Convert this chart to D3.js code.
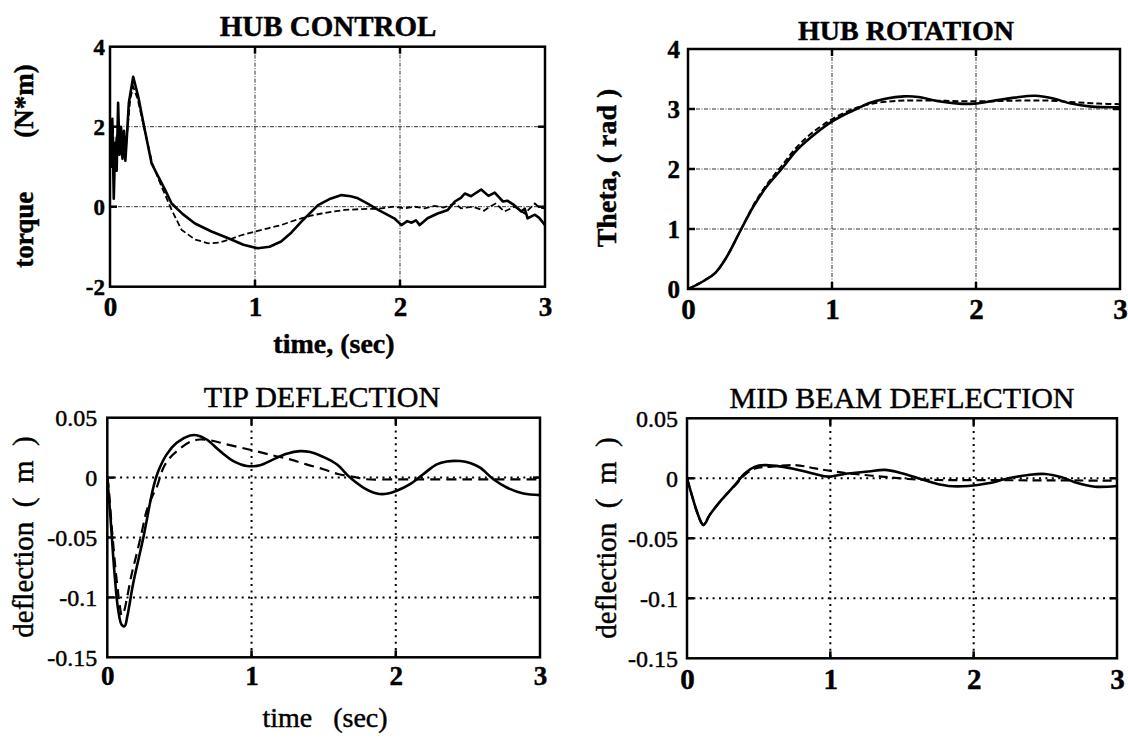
<!DOCTYPE html>
<html><head><meta charset="utf-8">
<script src="https://cdn.jsdelivr.net/npm/d3@7"></script>
<style>
body{margin:0;background:#fff;}
svg{display:block;background:#fff;}
text{font-family:"Liberation Serif","Times New Roman",serif;fill:#000;stroke:#000;stroke-width:0.45px;}
</style></head><body>
<svg id="chart" width="1128" height="740"></svg>
<script>
// ---------------- DATA ----------------
const timeTicks = [0, 1, 2, 3];
const timeTickLabels = ["0", "1", "2", "3"];

const torqueTicks = [-2, 0, 2, 4];
const torqueTickLabels = ["-2", "0", "2", "4"];
const thetaTicks = [0, 1, 2, 3, 4];
const thetaTickLabels = ["0", "1", "2", "3", "4"];
const deflTicks = [-0.15, -0.1, -0.05, 0, 0.05];
const deflTickLabels = ["-0.15", "-0.1", "-0.05", "0", "0.05"];

// HUB CONTROL torque (N*m) : [time, value]
const hubControlSolid = [[0,2.0],[0.008,1.0],[0.016,2.2],[0.026,0.2],[0.036,1.6],[0.046,0.9],[0.056,2.6],[0.066,1.3],[0.076,2.0],[0.086,1.2],[0.096,1.9],[0.106,1.15],[0.114,1.6],[0.13,2.6],[0.16,3.25],[0.195,2.75],[0.24,1.92],[0.287,1.08],[0.333,0.75],[0.38,0.42],[0.425,0.08],[0.5,-0.18],[0.586,-0.42],[0.7,-0.62],[0.816,-0.79],[0.92,-0.95],[1.02,-1.04],[1.1,-1.0],[1.18,-0.87],[1.25,-0.65],[1.32,-0.375],[1.435,0.04],[1.52,0.2],[1.597,0.29],[1.66,0.26],[1.71,0.21],[1.78,0.07],[1.85,-0.08],[1.96,-0.29],[2.01,-0.46],[2.05,-0.36],[2.08,-0.4],[2.11,-0.34],[2.136,-0.46],[2.19,-0.29],[2.26,-0.17],[2.33,-0.08],[2.378,0.13],[2.42,0.22],[2.447,0.33],[2.49,0.26],[2.53,0.36],[2.56,0.43],[2.61,0.27],[2.653,0.35],[2.71,0.13],[2.74,0.15],[2.78,0.06],[2.837,-0.12],[2.86,-0.05],[2.88,-0.29],[2.93,-0.2],[2.96,-0.28],[3.0,-0.46]];
const hubControlDashed = [[0,1.9],[0.01,1.4],[0.02,2.0],[0.03,1.0],[0.045,1.8],[0.06,1.4],[0.075,1.9],[0.09,1.3],[0.105,1.7],[0.12,1.9],[0.14,2.7],[0.16,3.0],[0.19,2.7],[0.24,1.9],[0.29,1.1],[0.356,0.5],[0.425,-0.08],[0.494,-0.58],[0.586,-0.82],[0.678,-0.915],[0.75,-0.9],[0.816,-0.83],[0.9,-0.72],[1.0,-0.62],[1.09,-0.54],[1.18,-0.46],[1.25,-0.37],[1.32,-0.29],[1.39,-0.22],[1.46,-0.17],[1.54,-0.12],[1.62,-0.08],[1.735,-0.06],[1.85,-0.05],[1.96,0],[2.03,-0.04],[2.1,0],[2.17,-0.04],[2.24,0.02],[2.3,-0.02],[2.378,0.08],[2.42,-0.04],[2.5,0],[2.58,-0.1],[2.62,0.0],[2.66,0.08],[2.72,-0.12],[2.79,0.0],[2.86,-0.17],[2.93,0.08],[2.96,-0.02],[3.0,-0.04]];

// HUB ROTATION theta (rad)
const hubRotationSolid = [[0,0],[0.06,0.07],[0.12,0.15],[0.19,0.27],[0.26,0.5],[0.37,1.0],[0.46,1.4],[0.55,1.72],[0.65,2.0],[0.75,2.3],[0.85,2.52],[0.98,2.76],[1.08,2.9],[1.17,3.0],[1.26,3.1],[1.37,3.17],[1.5,3.21],[1.6,3.2],[1.74,3.13],[1.88,3.09],[1.99,3.09],[2.13,3.14],[2.27,3.19],[2.41,3.22],[2.53,3.18],[2.66,3.09],[2.8,3.04],[3.0,3.03]];
const hubRotationDashed = [[0,0],[0.06,0.07],[0.12,0.15],[0.19,0.27],[0.26,0.5],[0.37,1.0],[0.46,1.42],[0.55,1.75],[0.65,2.05],[0.75,2.35],[0.85,2.58],[0.98,2.8],[1.08,2.93],[1.17,3.02],[1.26,3.08],[1.37,3.12],[1.5,3.14],[1.7,3.14],[1.9,3.13],[2.1,3.13],[2.3,3.14],[2.5,3.14],[2.7,3.11],[2.85,3.09],[3.0,3.08]];

// TIP DEFLECTION (m)
const tipSolid = [[0,0],[0.02,-0.03],[0.05,-0.08],[0.075,-0.11],[0.1,-0.123],[0.12,-0.124],[0.14,-0.115],[0.18,-0.088],[0.25,-0.05],[0.319,-0.0083],[0.354,0.0055],[0.412,0.0194],[0.481,0.029],[0.574,0.0351],[0.62,0.0354],[0.689,0.0318],[0.782,0.0221],[0.874,0.0138],[0.967,0.0097],[1.059,0.0103],[1.151,0.0152],[1.244,0.0199],[1.336,0.0221],[1.406,0.0213],[1.498,0.0172],[1.591,0.0111],[1.683,0.0],[1.775,-0.0083],[1.868,-0.0133],[1.937,-0.0135],[2.007,-0.011],[2.099,-0.0055],[2.19,0.0028],[2.284,0.0111],[2.354,0.0135],[2.446,0.0138],[2.52,0.012],[2.585,0.0083],[2.677,-0.0014],[2.77,-0.0083],[2.885,-0.0133],[3.0,-0.0146]];
const tipDashed = [[0,0],[0.007,-0.0055],[0.03,-0.04],[0.06,-0.08],[0.088,-0.108],[0.1,-0.115],[0.115,-0.112],[0.134,-0.102],[0.17,-0.08],[0.204,-0.0636],[0.24,-0.045],[0.273,-0.0276],[0.319,-0.0138],[0.342,-0.0083],[0.389,0.0083],[0.43,0.016],[0.481,0.022],[0.574,0.0299],[0.643,0.0318],[0.72,0.031],[0.82,0.028],[1.01,0.0227],[1.15,0.0185],[1.267,0.0152],[1.38,0.011],[1.498,0.007],[1.6,0.003],[1.706,0.0006],[1.8,-0.0014],[2.0,-0.0014],[2.5,-0.0014],[3.0,-0.0014]];

// MID BEAM DEFLECTION (m)
const midSolid = [[0,0],[0.03,-0.0125],[0.065,-0.0264],[0.1,-0.037],[0.114,-0.039],[0.13,-0.037],[0.16,-0.0303],[0.242,-0.0178],[0.335,-0.0055],[0.405,0.0042],[0.475,0.0097],[0.544,0.011],[0.66,0.0097],[0.777,0.007],[0.893,0.0036],[0.986,0.0014],[1.1,0.0036],[1.265,0.0056],[1.38,0.007],[1.498,0.0042],[1.614,0.0],[1.73,-0.0042],[1.823,-0.0064],[1.963,-0.0064],[2.1,-0.0042],[2.243,0.0],[2.382,0.0028],[2.498,0.0036],[2.614,0.0008],[2.73,-0.0042],[2.847,-0.007],[3.0,-0.0064]];
const midDashed = [[0,0],[0.03,-0.0125],[0.065,-0.0264],[0.1,-0.037],[0.114,-0.039],[0.13,-0.036],[0.16,-0.0303],[0.242,-0.0178],[0.335,-0.006],[0.405,0.003],[0.475,0.0083],[0.59,0.0097],[0.754,0.011],[0.893,0.0083],[1.03,0.0056],[1.17,0.0036],[1.358,0.0014],[1.544,-0.0006],[1.75,-0.0014],[2.2,-0.0016],[2.7,-0.0018],[3.0,-0.002]];

// ---------------- LAYOUT ----------------
const svg = d3.select("#chart");

const panels = [
  { x0:110, x1:545, y0:46.7, y1:286.7, yDomain:[-2,4], yTicks:torqueTicks, yLabels:torqueTickLabels,
    solid:hubControlSolid, dashed:hubControlDashed, curve:d3.curveLinear,
    gridDash:"4,1.5,1,1.5", gridWidth:1, gridColor:"#333",
    dashPattern:"6,3", dashWidth:1.8,
    yTickFont:{size:23, weight:"bold", pad:5}, xTickFont:{size:27, weight:"bold", pad:10},
    title:{text:"HUB CONTROL", x:328, y:36, size:29, weight:"bold"},
    yLabel:{text:"torque        (N*m)", x:33, y:166, size:27, weight:"bold"},
    xLabel:{text:"time, (sec)", x:334, y:353, size:28, weight:"bold"} },
  { x0:688, x1:1120, y0:49, y1:289, yDomain:[0,4], yTicks:thetaTicks, yLabels:thetaTickLabels,
    solid:hubRotationSolid, dashed:hubRotationDashed, curve:d3.curveCatmullRom.alpha(0.5),
    gridDash:"4,1.5,1,1.5", gridWidth:1, gridColor:"#333",
    dashPattern:"6,3", dashWidth:2,
    yTickFont:{size:25, weight:"bold", pad:8}, xTickFont:{size:29, weight:"bold", pad:9},
    title:{text:"HUB ROTATION", x:906, y:40, size:28, weight:"bold"},
    yLabel:{text:"Theta, ( rad )", x:616, y:168, size:28, weight:"bold"},
    xLabel:null },
  { x0:107.3, x1:540, y0:417.7, y1:657.3, yDomain:[-0.15,0.05], yTicks:deflTicks, yLabels:deflTickLabels,
    solid:tipSolid, dashed:tipDashed, curve:d3.curveCatmullRom.alpha(0.5),
    gridDash:"2,4.4", gridWidth:2, gridColor:"#000",
    dashPattern:"10,6", dashWidth:2.2,
    yTickFont:{size:24, weight:"normal", pad:10}, xTickFont:{size:27, weight:"bold", pad:9},
    title:{text:"TIP DEFLECTION", x:322, y:406.7, size:30, weight:"normal"},
    yLabel:{text:"deflection  (  m  )", x:33, y:537, size:29, weight:"normal"},
    xLabel:{text:"time   (sec)", x:325, y:727, size:28, weight:"normal"} },
  { x0:687, x1:1117, y0:418.3, y1:658.3, yDomain:[-0.15,0.05], yTicks:deflTicks, yLabels:deflTickLabels,
    solid:midSolid, dashed:midDashed, curve:d3.curveCatmullRom.alpha(0.5),
    gridDash:"2,4.4", gridWidth:2, gridColor:"#000",
    dashPattern:"9,5", dashWidth:2.2,
    yTickFont:{size:24, weight:"normal", pad:9}, xTickFont:{size:29, weight:"bold", pad:10},
    title:{text:"MID BEAM DEFLECTION", x:902, y:408, size:30, weight:"normal"},
    yLabel:{text:"deflection  (  m  )", x:616, y:538, size:29, weight:"normal"},
    xLabel:null }
];

panels.forEach((p, idx) => {
  const x = d3.scaleLinear().domain([0,3]).range([p.x0, p.x1]);
  const y = d3.scaleLinear().domain(p.yDomain).range([p.y1, p.y0]);
  const g = svg.append("g");

  const cid = "clip" + idx;
  svg.append("clipPath").attr("id", cid).append("rect")
    .attr("x", p.x0).attr("y", p.y0).attr("width", p.x1 - p.x0).attr("height", p.y1 - p.y0);

  // grid lines
  const inner = timeTicks.filter(t => t > 0 && t < 3);
  g.selectAll(".vg").data(inner).join("line")
    .attr("x1", d => x(d)).attr("x2", d => x(d)).attr("y1", p.y0).attr("y2", p.y1)
    .attr("stroke", p.gridColor).attr("stroke-width", p.gridWidth).attr("stroke-dasharray", p.gridDash);
  const innerY = p.yTicks.filter(t => t > p.yDomain[0] && t < p.yDomain[1]);
  g.selectAll(".hg").data(innerY).join("line")
    .attr("y1", d => y(d)).attr("y2", d => y(d)).attr("x1", p.x0).attr("x2", p.x1)
    .attr("stroke", p.gridColor).attr("stroke-width", p.gridWidth).attr("stroke-dasharray", p.gridDash);

  // inward tick marks
  const tl = 7;
  innerY.forEach(v => {
    g.append("line").attr("x1", p.x0).attr("x2", p.x0 + tl).attr("y1", y(v)).attr("y2", y(v)).attr("stroke","#000").attr("stroke-width",2.5);
    g.append("line").attr("x1", p.x1 - tl).attr("x2", p.x1).attr("y1", y(v)).attr("y2", y(v)).attr("stroke","#000").attr("stroke-width",2.5);
  });
  inner.forEach(t => {
    g.append("line").attr("x1", x(t)).attr("x2", x(t)).attr("y1", p.y1 - tl).attr("y2", p.y1).attr("stroke","#000").attr("stroke-width",2.5);
    g.append("line").attr("x1", x(t)).attr("x2", x(t)).attr("y1", p.y0).attr("y2", p.y0 + tl).attr("stroke","#000").attr("stroke-width",2.5);
  });

  // curves
  const line = d3.line().x(d => x(d[0])).y(d => y(d[1])).curve(p.curve);
  g.append("path").datum(p.dashed).attr("d", line).attr("fill","none")
    .attr("stroke","#000").attr("stroke-width", p.dashWidth).attr("stroke-dasharray", p.dashPattern)
    .attr("clip-path", `url(#${cid})`);
  g.append("path").datum(p.solid).attr("d", line).attr("fill","none")
    .attr("stroke","#000").attr("stroke-width", 2.6).attr("stroke-linejoin","round")
    .attr("clip-path", `url(#${cid})`);

  // frame
  g.append("rect").attr("x", p.x0).attr("y", p.y0).attr("width", p.x1 - p.x0).attr("height", p.y1 - p.y0)
    .attr("fill","none").attr("stroke","#000").attr("stroke-width", 2.5);

  // axes (labels only)
  const yAxis = d3.axisLeft(y).tickValues(p.yTicks).tickFormat((d,i) => p.yLabels[i])
    .tickSize(0).tickPadding(p.yTickFont.pad);
  const ya = g.append("g").attr("transform", `translate(${p.x0},0)`).call(yAxis);
  ya.select(".domain").remove();
  ya.attr("font-family", null).attr("font-size", null);
  ya.selectAll("text").style("font-size", p.yTickFont.size + "px").style("font-weight", p.yTickFont.weight)
    .attr("dy", "0.34em");

  const xAxis = d3.axisBottom(x).tickValues(timeTicks).tickFormat((d,i) => timeTickLabels[i])
    .tickSize(0).tickPadding(p.xTickFont.pad);
  const xa = g.append("g").attr("transform", `translate(0,${p.y1})`).call(xAxis);
  xa.select(".domain").remove();
  xa.attr("font-family", null).attr("font-size", null);
  xa.selectAll("text").style("font-size", p.xTickFont.size + "px").style("font-weight", p.xTickFont.weight);

  // title
  svg.append("text").attr("x", p.title.x).attr("y", p.title.y).attr("text-anchor","middle")
    .style("font-size", p.title.size + "px").style("font-weight", p.title.weight).text(p.title.text);
  // y label
  svg.append("text").attr("transform", `translate(${p.yLabel.x},${p.yLabel.y}) rotate(-90)`)
    .attr("text-anchor","middle").style("white-space","pre")
    .style("font-size", p.yLabel.size + "px").style("font-weight", p.yLabel.weight).text(p.yLabel.text);
  // x label
  if (p.xLabel) {
    svg.append("text").attr("x", p.xLabel.x).attr("y", p.xLabel.y).attr("text-anchor","middle")
      .style("white-space","pre")
      .style("font-size", p.xLabel.size + "px").style("font-weight", p.xLabel.weight).text(p.xLabel.text);
  }
});
</script>
</body></html>
